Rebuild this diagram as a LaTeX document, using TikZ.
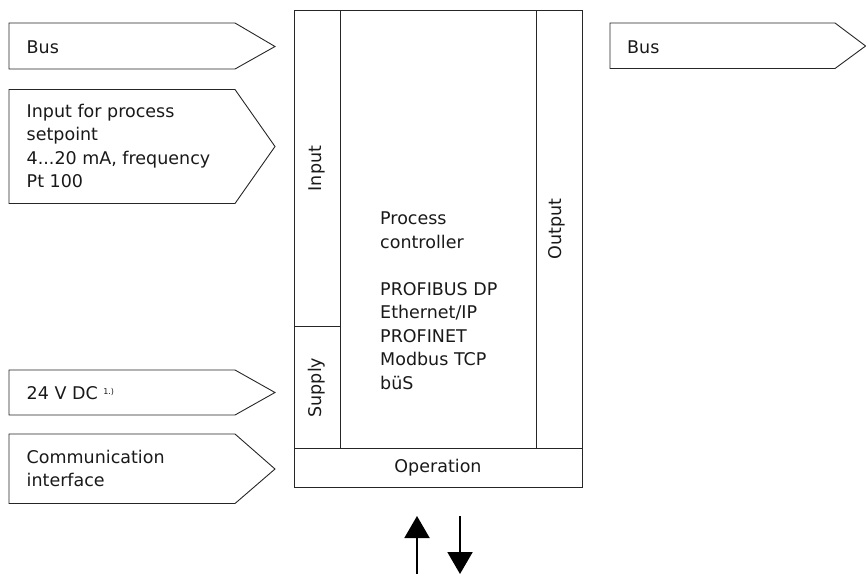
\documentclass[tikz,border=0pt]{standalone}
\usepackage{fontspec}
\setmainfont{DejaVu Sans}
\usetikzlibrary{arrows.meta}
\begin{document}
\begin{tikzpicture}[x=1pt,y=-1pt,
  outline/.style={draw=black!85,line width=0.9pt},
  lbl/.style={inner sep=0pt,font=\fontsize{17.5}{23.5}\selectfont,text=black!90},
  flow/.style={line width=2pt,-{Triangle[width=25pt,length=22pt]}}]
\useasboundingbox (0,0) rectangle (866,574);
% left input arrows
\draw[outline] (9,23) -- (235,23) -- (275,46.5) -- (235,69) -- (9,69) -- cycle;
\node[lbl,anchor=west] (bus1) at (26.5,47) {Bus};
\draw[outline] (9,89.5) -- (235,89.5) -- (275,146.5) -- (235,203.5) -- (9,203.5) -- cycle;
\node[lbl,anchor=west,align=left] (inp) at (26.5,146) {Input for process\\setpoint\\4...20 mA,\ frequency\\Pt 100};
\draw[outline] (9,370) -- (235,370) -- (275,392.5) -- (235,415) -- (9,415) -- cycle;
\node[lbl,anchor=west] (dc) at (26.5,393) {24 V DC {\fontsize{8}{8}\selectfont\raisebox{5pt}{1.)}}};
\draw[outline] (9,434) -- (235,434) -- (275,469) -- (235,503.5) -- (9,503.5) -- cycle;
\node[lbl,anchor=west,align=left] (comm) at (26.5,468.5) {Communication\\interface};
% right output arrow
\draw[outline] (610,23) -- (835,23) -- (865.6,46) -- (835,68.5) -- (610,68.5) -- cycle;
\node[lbl,anchor=west] (bus2) at (627,47) {Bus};
% main box
\draw[outline] (294,10) rectangle (582,487);
\draw[outline] (294,448) -- (582,448);
\draw[outline] (340,10) -- (340,448);
\draw[outline] (536,10) -- (536,448);
\draw[outline] (294,326) -- (340,326);
\node[lbl,rotate=90] (input) at (317,168.5) {Input};
\node[lbl,rotate=90] (supply) at (317,387.5) {Supply};
\node[lbl,rotate=90] (output) at (557,229) {Output};
\node[lbl] (oper) at (438,467.5) {Operation};
\node[lbl,anchor=west,align=left] (proc) at (380,300.5) {Process\\controller\\[23.5pt]PROFIBUS DP\\Ethernet/IP\\PROFINET\\Modbus TCP\\büS};
% operation arrows
\coordinate (ua) at (417,574);
\coordinate (ub) at (417,516);
\coordinate (da) at (460,516);
\coordinate (db) at (460,574);
\draw[flow] (ua) -- (ub);
\draw[flow] (da) -- (db);
\end{tikzpicture}
\end{document}
